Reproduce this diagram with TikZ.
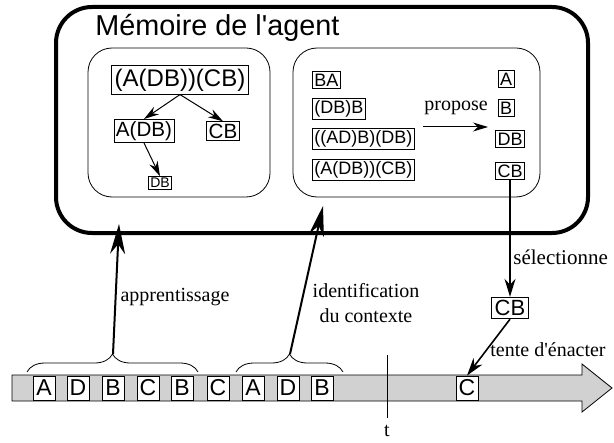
\documentclass[tikz,border=0pt]{standalone}
\usepackage{fontspec}
\setmainfont{Liberation Serif}
\setsansfont{Liberation Sans}
\usetikzlibrary{arrows.meta,decorations.pathreplacing}

\tikzset{
  bigbox/.style={draw,font=\sffamily\fontsize{12}{14}\selectfont,inner sep=1.5pt},
  midbox/.style={draw,font=\sffamily\fontsize{10.3}{12}\selectfont,inner sep=1pt},
  smallbox/.style={draw,font=\sffamily\fontsize{9}{11}\selectfont,inner sep=1pt},
  tinybox/.style={draw,font=\sffamily\fontsize{7}{8}\selectfont,inner sep=0.8pt},
  letterbox/.style={draw,fill=white,font=\sffamily\fontsize{11.5}{12}\selectfont,inner sep=0pt,minimum width=11pt,minimum height=12pt},
  thinarrow/.style={-{Stealth[length=7.5pt,width=4.5pt]},line width=0.5pt},
  midarrow/.style={-{Stealth[length=9pt,width=5.5pt]},line width=0.8pt},
  fatarrow/.style={-{Stealth[length=15pt,width=7.5pt]},line width=1pt},
  label/.style={font=\fontsize{10}{12.5}\selectfont,inner sep=0pt}
}

\begin{document}
\begin{tikzpicture}[x=0.5pt,y=-0.5pt]
        \useasboundingbox (0,0) rectangle (614,443);

        % --- Draw agent memory ---
        \draw[line width=2pt,rounded corners=18pt] (56,7) rectangle (588,233);
        \node[anchor=west,inner sep=0pt,font=\sffamily\fontsize{14.4}{16}\selectfont] (title) at (95,28) {Mémoire de l\textquotesingle agent};
        \draw[rounded corners=12pt] (88,48) rectangle (270,197);
        \draw[rounded corners=12pt] (293,48) rectangle (540,197);
        % ---

        % --- Draw learnt tree ---
        \node[bigbox] (root) at (180,80) {(A(DB))(CB)};
        \node[midbox] (adb) at (144,131) {A(DB)};
        \node[midbox] (cbL) at (223,131) {CB};
        \node[tinybox] (dbL) at (160,183) {DB};
        \draw[thinarrow] (root.south) -- (adb.north);
        \draw[thinarrow] (root.south) -- (cbL.north);
        \draw[thinarrow] (adb.south) -- (dbL.north);
        % ---

        % --- Draw context and proposals ---
        \node[smallbox,anchor=west] (ba) at (312,80) {BA};
        \node[smallbox,anchor=west] (dbb) at (312,109) {(DB)B};
        \node[smallbox,anchor=west] (addb) at (312,139) {((AD)B)(DB)};
        \node[smallbox,anchor=west] (adbcb) at (312,170) {(A(DB))(CB)};
        \node[smallbox] (pA) at (506,79) {A};
        \node[smallbox] (pB) at (506,108) {B};
        \node[smallbox] (pDB) at (510,139) {DB};
        \node[smallbox] (pCB) at (510,171) {CB};
        \coordinate (propS) at (423,127);
        \coordinate (propE) at (488,127);
        \draw[thinarrow] (propS) -- (propE);
        \node[label] (prop) at (456,108) {propose};
        % ---

        % --- Draw time line ---
        \draw[fill=black!18] (12,375) -- (582,375) -- (582,364) -- (612,388) -- (582,412) -- (582,401) -- (12,401) -- cycle;
        \foreach \l/\x [count=\i] in {A/44,D/78,B/113,C/148,B/182,C/218,A/253,D/288,B/322}
            \node[letterbox] (tl\i) at (\x,388) {\l};
        \node[letterbox] (tlC) at (467,388) {C};
        \coordinate (tTop) at (387,355);
        \coordinate (tBot) at (387,418);
        \draw (tTop) -- (tBot);
        \node[label] (tlab) at (387,431) {t};
        % ---

        % --- Draw braces and arrows to memory ---
        \draw[decorate,decoration={brace,amplitude=9pt}] (27,372) -- (198,372);
        \draw[decorate,decoration={brace,amplitude=9pt}] (236,372) -- (343,372);
        \coordinate (brL) at (113,354);
        \coordinate (brR) at (290,354);
        \coordinate (memL) at (119,224);
        \coordinate (memR) at (323,206);
        \draw[fatarrow] (brL) -- (memL);
        \draw[fatarrow] (brR) -- (memR);
        \node[label] (appr) at (175,297) {apprentissage};
        \node[label,align=center] (ident) at (366,303) {identification\\du contexte};
        % ---

        % --- Draw selection and enaction ---
        \node[bigbox,font=\sffamily\fontsize{11}{13}\selectfont] (cbS) at (510,308) {CB};
        \draw[midarrow] (pCB.south) -- (cbS.north);
        \node[label,anchor=west,font=\fontsize{10.5}{12.5}\selectfont] (sel) at (513,257) {sélectionne};
        \draw[midarrow] (cbS.south) -- (tlC.north);
        \node[label] (ena) at (548,350) {tente d\textquotesingle énacter};
        % ---
\end{tikzpicture}
\end{document}
